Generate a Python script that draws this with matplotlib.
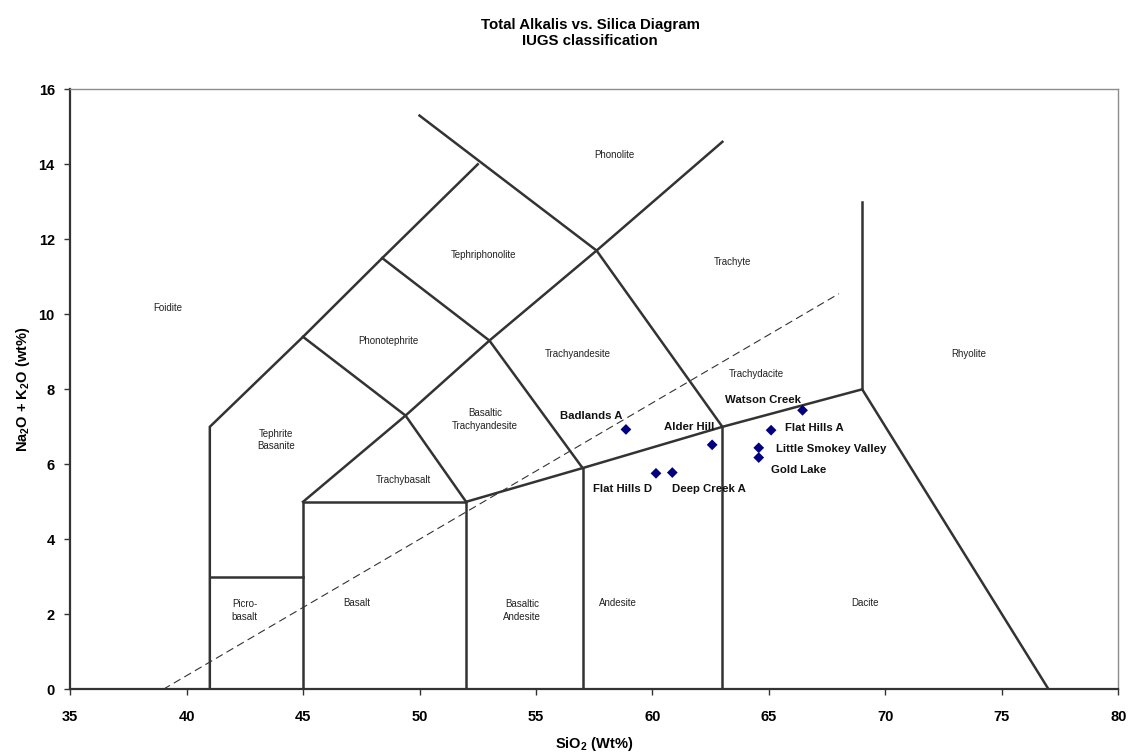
"""Total alkalis vs. silica (TAS) diagram, IUGS classification."""

import matplotlib

matplotlib.use("Agg")

import matplotlib.pyplot as plt

plt.rcParams["font.family"] = ["Liberation Sans", "DejaVu Sans"]
plt.rcParams["mathtext.fontset"] = "custom"
plt.rcParams["mathtext.bf"] = "Liberation Sans:bold"
plt.rcParams["mathtext.rm"] = "Liberation Sans"
plt.rcParams["mathtext.default"] = "bf"

# samples
sample_names = [
    "Badlands A", "Alder Hill", "Watson Creek", "Flat Hills A",
    "Little Smokey Valley", "Gold Lake", "Deep Creek A", "Flat Hills D",
]
sio2 = [58.86, 62.56, 66.44, 65.09, 64.56, 64.56, 60.85, 60.15]
alkalis = [6.93, 6.52, 7.44, 6.91, 6.44, 6.18, 5.78, 5.76]

# IUGS field boundaries (SiO2, Na2O+K2O)
boundary_x = [
    [41, 41, 45, 48.4, 52.5],
    [41, 45],
    [45, 45, 52, 52],
    [45, 49.4, 53, 57.6, 63],
    [45, 49.4, 52],
    [48.4, 53, 57],
    [50, 57.6, 63],
    [52, 57, 63, 69, 77],
    [57, 57],
    [63, 63],
    [69, 69],
]
boundary_y = [
    [0, 7, 9.4, 11.5, 14],
    [3, 3],
    [0, 5, 5, 0],
    [5, 7.3, 9.3, 11.7, 14.6],
    [9.4, 7.3, 5],
    [11.5, 9.3, 5.9],
    [15.3, 11.7, 7],
    [5, 5.9, 7, 8, 0],
    [0, 5.9],
    [0, 7],
    [8, 13],
]
# alkaline / subalkaline divide
divide_x = [39, 68]
divide_y = [0, 10.55]

field_names = [
    "Phonolite", "Tephriphonolite", "Trachyte", "Foidite", "Phonotephrite",
    "Trachyandesite", "Trachydacite", "Rhyolite", "Basaltic\nTrachyandesite",
    "Tephrite\nBasanite", "Trachybasalt", "Picro-\nbasalt", "Basalt",
    "Basaltic\nAndesite", "Andesite", "Dacite",
]
field_label_pos = [
    (58.36, 14.25), (52.73, 11.58), (63.42, 11.4), (39.2, 10.17), (48.65, 9.29),
    (56.81, 8.94), (64.45, 8.41), (73.56, 8.94), (52.8, 7.2),
    (43.85, 6.65), (49.3, 5.58), (42.5, 2.1), (47.3, 2.3),
    (54.4, 2.1), (58.5, 2.3), (69.1, 2.3),
]
# label offsets from each sample marker, in pixels (left edge of text)
sample_label_offset = [
    (-66, 13), (-48, 18), (-78, 10), (14, 2), (17, -1), (12, -12), (0, -16), (-63, -16),
]

fig = plt.figure(figsize=(11.37, 7.55), dpi=100)
ax = fig.add_axes([0.0616, 0.087, 0.9221, 0.7947])

line_color = "#333333"
for xs, ys in zip(boundary_x, boundary_y):
    ax.plot(xs, ys, color=line_color, lw=1.8, solid_joinstyle="miter", zorder=2)
ax.plot(divide_x, divide_y, color=line_color, lw=0.8, dashes=(7, 4), zorder=2)

for name, (fx, fy) in zip(field_names, field_label_pos):
    ax.text(fx, fy, name, ha="center", va="center", fontsize=7, color="#222222",
            linespacing=1.3, zorder=3)

ax.scatter(sio2, alkalis, marker="D", s=30, color="#000080", edgecolors="none", zorder=4)
for name, x, y, (dx, dy) in zip(sample_names, sio2, alkalis, sample_label_offset):
    ax.annotate(name, (x, y), xytext=(dx, dy), textcoords="offset pixels",
                ha="left", va="center", fontsize=8.2, fontweight="bold", color="#111111", zorder=5)

ax.set_xlim(35, 80)
ax.set_ylim(0, 16)
ax.set_xticks(range(35, 81, 5))
ax.set_yticks(range(0, 17, 2))
ax.tick_params(direction="out", length=4, width=1, color=line_color, labelsize=10.5)
ax.tick_params(axis="x", pad=11)
ax.tick_params(axis="y", pad=7)
for label in ax.get_xticklabels() + ax.get_yticklabels():
    label.set_fontweight("bold")

ax.spines["left"].set_color(line_color)
ax.spines["left"].set_linewidth(1.6)
ax.spines["bottom"].set_color(line_color)
ax.spines["bottom"].set_linewidth(1.6)
ax.spines["top"].set_color("#8c8c8c")
ax.spines["right"].set_color("#8c8c8c")
ax.spines["top"].set_linewidth(1)
ax.spines["right"].set_linewidth(1)

ax.set_xlabel(r"SiO$_2$ (Wt%)", fontsize=10.5, fontweight="bold", labelpad=8)
ax.set_ylabel(r"Na$_2$O + K$_2$O (wt%)", fontsize=10.5, fontweight="bold", labelpad=5)
fig.text(0.519, 0.956, "Total Alkalis vs. Silica Diagram\nIUGS classification",
         ha="center", va="center", fontsize=10.8, fontweight="bold", linespacing=1.2)

fig.savefig("out.png", dpi=100)
